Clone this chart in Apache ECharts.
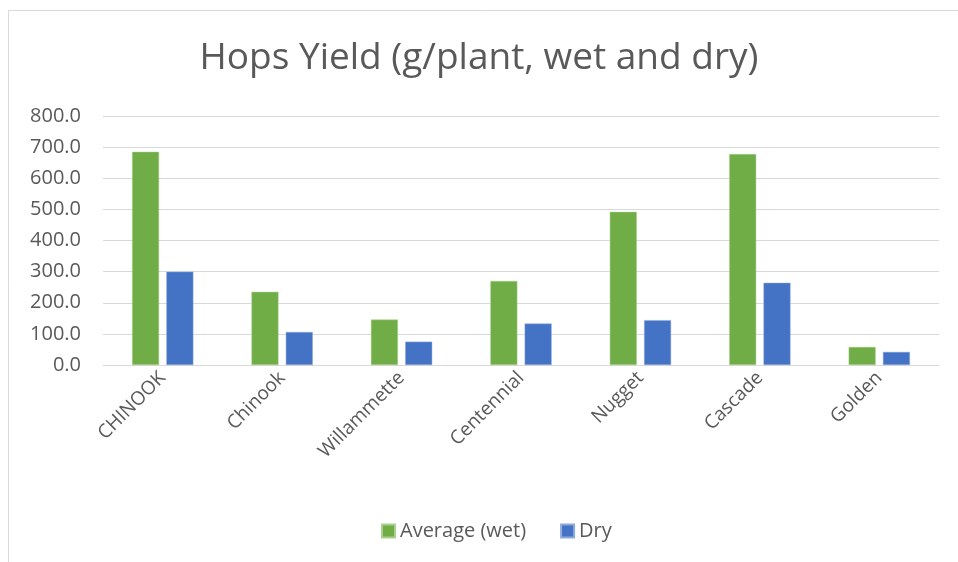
<!DOCTYPE html>
<html><head><meta charset="utf-8">
<script src="https://cdn.jsdelivr.net/npm/echarts@6/dist/echarts.min.js"></script>
<style>html,body{margin:0;padding:0;background:#fff}#c{width:958px;height:562px}</style>
</head><body><div id="c"></div>
<script>
var categories = ['CHINOOK','Chinook','Willammette','Centennial','Nugget','Cascade','Golden'];
var wetValues = [685, 235, 146, 270, 492, 678, 58];
var dryValues = [300, 106, 75, 133, 144, 264, 42];
var seriesNames = ['Average (wet)', 'Dry'];
var yTicks = {min: 0, max: 800, interval: 100};

var FONT = '"Open Sans", "Noto Sans", sans-serif';
var chart = echarts.init(document.getElementById('c'), null, {renderer: 'canvas'});
chart.setOption({
  animation: false,
  backgroundColor: '#fff',
  graphic: [{type: 'rect', shape: {x: 8.5, y: 10.5, width: 1000, height: 600}, style: {fill: 'none', stroke: '#d9d9d9', lineWidth: 1}, silent: true}],
  title: {
    text: 'Hops Yield (g/plant, wet and dry)', left: 'center', top: 35,
    textStyle: {fontFamily: FONT, fontSize: 37, fontWeight: 'normal', color: '#595959'}
  },
  legend: {
    data: seriesNames, bottom: 16, left: 376, itemWidth: 13, itemHeight: 13, itemGap: 34,
    icon: 'rect',
    textStyle: {fontFamily: FONT, fontSize: 20, color: '#595959'}
  },
  grid: {left: 103, right: 19, top: 116, bottom: 197, containLabel: false},
  xAxis: {
    type: 'category', data: categories,
    axisLine: {lineStyle: {color: '#d9d9d9', width: 1}},
    axisTick: {show: false},
    axisLabel: {rotate: 45, interval: 0, fontFamily: FONT, fontSize: 19, color: '#595959', margin: 10}
  },
  yAxis: {
    type: 'value', min: yTicks.min, max: yTicks.max, interval: yTicks.interval,
    axisLine: {show: false}, axisTick: {show: false},
    axisLabel: {fontFamily: FONT, fontSize: 20, color: '#595959', margin: 22, formatter: function(v){return v.toFixed(1);}},
    splitLine: {lineStyle: {color: '#d9d9d9', width: 1}}
  },
  series: [
    {name: seriesNames[0], type: 'bar', data: wetValues, barWidth: 27, barGap: '27%',
     itemStyle: {color: '#70ad47', borderColor: '#a9d08e', borderWidth: 0.5}},
    {name: seriesNames[1], type: 'bar', data: dryValues, barWidth: 27,
     itemStyle: {color: '#4472c4', borderColor: '#8faadc', borderWidth: 0.5}}
  ]
});
</script></body></html>
